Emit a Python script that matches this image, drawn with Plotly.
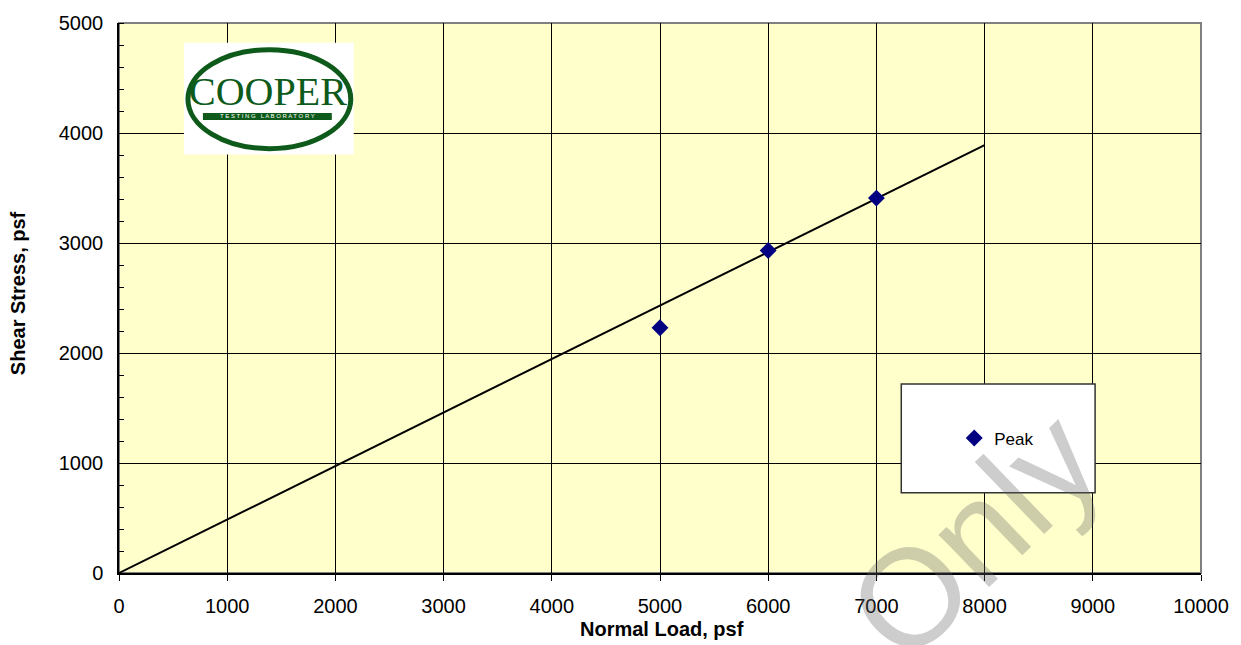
import plotly.graph_objects as go

# ---- data ----
normal_load = [5000, 6000, 7000]
shear_peak = [2230, 2932, 3408]
fit_x = [0, 8000]
fit_y = [0, 3890]
x_ticks = [0, 1000, 2000, 3000, 4000, 5000, 6000, 7000, 8000, 9000, 10000]
y_ticks = [0, 1000, 2000, 3000, 4000, 5000]

W, H = 1241, 645
L, R, T, B = 119, 39, 17, 72
PW, PH = W - L - R, H - T - B


def px(x):
    return (x - L) / PW


def py(y):
    return (H - B - y) / PH


fig = go.Figure()
fig.add_trace(go.Scatter(x=fit_x, y=fit_y, mode="lines",
                         line=dict(color="black", width=2),
                         showlegend=False, hoverinfo="skip"))
fig.add_trace(go.Scatter(x=normal_load, y=shear_peak, mode="markers", name="Peak",
                         marker=dict(symbol="diamond", color="#000080", size=13)))

GREEN = "#0d5a1a"
shapes = [
    dict(type="rect", xref="paper", yref="paper", x0=0, x1=1, y0=0, y1=1,
         line=dict(color="#808080", width=2), layer="below"),
    dict(type="rect", xref="paper", yref="paper", x0=px(184), x1=px(354), y0=py(150), y1=py(37),
         fillcolor="white", line=dict(width=0), layer="above"),
    dict(type="circle", xref="paper", yref="paper", x0=px(188), x1=px(351), y0=py(144), y1=py(44),
         line=dict(color=GREEN, width=5), layer="above"),
    dict(type="rect", xref="paper", yref="paper", x0=px(203), x1=px(332), y0=py(115), y1=py(108),
         fillcolor=GREEN, line=dict(width=0), layer="above"),
    dict(type="rect", xref="paper", yref="paper", x0=px(902), x1=px(1096), y0=py(492), y1=py(382),
         fillcolor="white", line=dict(color="#333333", width=1.5), layer="above"),
]

annotations = [
    dict(text="COOPER", xref="paper", yref="paper", x=px(268), y=py(86), showarrow=False,
         font=dict(family="Liberation Serif", size=40, color=GREEN), xanchor="center", yanchor="middle"),
    dict(text="T E S T I N G   L A B O R A T O R Y", xref="paper", yref="paper", x=px(268), y=py(111.5),
         showarrow=False, font=dict(family="Liberation Sans", size=6, color="white"),
         xanchor="center", yanchor="middle"),
    dict(text="<b>Normal Load, psf</b>", xref="paper", yref="paper", x=px(663), y=py(630), showarrow=False,
         font=dict(family="Liberation Sans", size=20, color="black"), xanchor="center", yanchor="middle"),
    dict(text="<b>Shear Stress, psf</b>", xref="paper", yref="paper", x=px(18), y=py(290), showarrow=False,
         textangle=-90, font=dict(family="Liberation Sans", size=20, color="black"),
         xanchor="center", yanchor="middle"),
    dict(text="Only", xref="paper", yref="paper", x=px(975), y=py(535), showarrow=False,
         textangle=-44, font=dict(family="Liberation Sans", size=138, color="rgba(100,100,100,0.32)"),
         xanchor="center", yanchor="middle"),
]

fig.update_layout(
    width=W, height=H,
    margin=dict(l=L, r=R, t=T, b=B),
    paper_bgcolor="white", plot_bgcolor="#FFFFCC",
    font=dict(family="Liberation Sans", size=20, color="black"),
    showlegend=True,
    legend=dict(x=px(955), y=py(437), xanchor="left", yanchor="middle",
                bgcolor="rgba(0,0,0,0)", borderwidth=0,
                font=dict(family="Liberation Sans", size=17, color="black")),
    shapes=shapes, annotations=annotations,
)
fig.update_xaxes(range=[0, 10000], tickvals=x_ticks, ticktext=[str(v) for v in x_ticks],
                 showgrid=True, gridcolor="black", gridwidth=1, zeroline=False,
                 showline=True, linecolor="black", linewidth=1.5,
                 ticks="outside", ticklen=6, tickcolor="black", ticklabelstandoff=8)
fig.update_yaxes(range=[0, 5000], tickvals=y_ticks, ticktext=[str(v) for v in y_ticks],
                 showgrid=True, gridcolor="black", gridwidth=1, zeroline=False,
                 showline=True, linecolor="black", linewidth=1.5,
                 ticks="", ticklabelstandoff=10,
                 minor=dict(dtick=200, ticks="inside", ticklen=5, tickcolor="black", showgrid=False))

fig.write_html("out.html", config={"displayModeBar": False},
               post_script="document.body.style.margin='0';document.body.style.padding='0';")
